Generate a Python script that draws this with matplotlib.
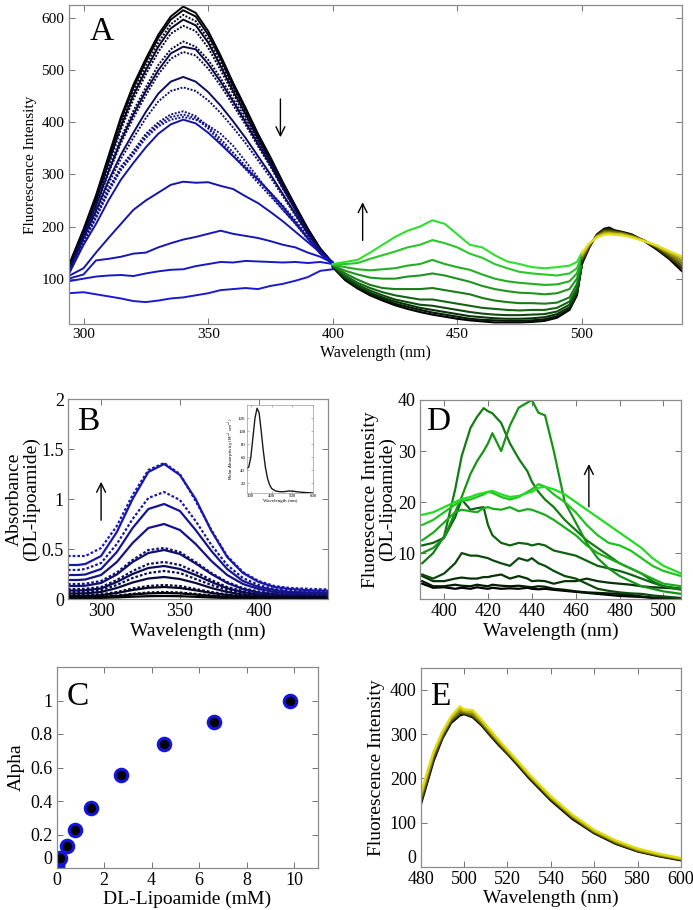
import matplotlib
matplotlib.use("Agg")
import matplotlib.pyplot as plt
import numpy as np
from matplotlib.colors import to_rgb

plt.rcParams['font.family'] = ['Liberation Serif', 'DejaVu Serif']
plt.rcParams['mathtext.fontset'] = 'stix'

# ---------------- Panel A data ----------------
a_wl_uv = [294, 300, 305, 310, 315, 320, 325, 330, 335, 340, 345, 350, 355, 360, 365, 370, 375, 380, 385, 390, 395, 400]
a_uv = [
    [125, 195, 260, 335, 410, 472, 522, 568, 603, 622, 610, 575, 528, 476, 428, 378, 333, 285, 240, 196, 158, 130],
    [122, 192, 256, 330, 405, 466, 516, 562, 597, 615, 603, 568, 522, 470, 424, 375, 330, 283, 238, 195, 157, 130],
    [120, 190, 253, 326, 398, 458, 508, 553, 588, 606, 594, 560, 515, 465, 420, 372, 328, 281, 237, 194, 156, 129],
    [118, 188, 250, 322, 392, 452, 500, 545, 580, 597, 586, 553, 508, 460, 416, 369, 326, 280, 236, 193, 156, 129],
    [116, 186, 247, 318, 386, 444, 492, 535, 570, 585, 575, 543, 500, 455, 411, 365, 323, 278, 235, 192, 155, 129],
    [115, 185, 243, 310, 370, 422, 467, 510, 540, 555, 545, 520, 485, 445, 405, 362, 320, 276, 233, 190, 155, 129],
    [114, 183, 240, 305, 365, 415, 460, 500, 532, 545, 540, 512, 478, 440, 400, 358, 318, 274, 232, 190, 155, 129],
    [113, 182, 238, 302, 360, 408, 452, 492, 522, 535, 528, 503, 470, 433, 395, 354, 315, 272, 231, 189, 154, 129],
    [112, 178, 230, 288, 338, 380, 420, 455, 478, 487, 478, 458, 432, 402, 370, 335, 300, 262, 224, 186, 152, 128],
    [111, 176, 226, 282, 330, 370, 408, 440, 460, 467, 460, 442, 418, 390, 360, 327, 294, 258, 221, 185, 152, 128],
    [110, 172, 220, 272, 315, 345, 378, 400, 415, 421, 412, 392, 368, 342, 316, 290, 265, 240, 212, 180, 150, 128],
    [110, 171, 218, 270, 312, 342, 374, 396, 410, 415, 408, 388, 362, 336, 310, 284, 258, 232, 206, 177, 149, 128],
    [109, 170, 216, 266, 308, 338, 370, 392, 405, 410, 405, 394, 378, 355, 325, 294, 262, 232, 205, 176, 148, 128],
    [108, 165, 205, 250, 290, 322, 352, 378, 396, 405, 398, 380, 358, 335, 312, 290, 265, 238, 208, 178, 148, 128],
    [105, 120, 150, 178, 205, 232, 250, 265, 280, 286, 284, 285, 278, 272, 258, 245, 228, 210, 190, 170, 150, 132],
    [100, 108, 135, 138, 142, 148, 150, 160, 168, 175, 180, 186, 192, 186, 182, 178, 172, 165, 160, 150, 142, 130],
    [95, 100, 104, 106, 107, 105, 110, 114, 117, 118, 124, 128, 132, 131, 134, 133, 132, 131, 132, 130, 132, 128],
    [72, 74, 70, 66, 62, 57, 55, 58, 62, 64, 68, 72, 78, 80, 82, 80, 86, 90, 96, 103, 115, 118],
]
a_uv_dotted = [False, False, True, False, True, True, False, True, False, True, True, True, True, False, False, False, False, False]

a_wl_vis = [400, 405, 410, 415, 420, 425, 430, 435, 440, 445, 450, 455, 460, 465, 470, 475, 480, 485, 490, 495, 498, 500]
a_vis = [
    [122, 97, 81, 68, 58, 49, 42, 36, 31, 27, 23, 20, 18, 16, 16, 16, 17, 19, 25, 40, 68, 128],
    [123, 99, 83, 70, 61, 52, 46, 40, 35, 31, 27, 23, 21, 20, 19, 19, 20, 22, 28, 42, 70, 128],
    [124, 101, 85, 73, 64, 56, 50, 44, 40, 36, 32, 28, 26, 24, 23, 23, 24, 26, 32, 45, 72, 128],
    [124, 103, 88, 77, 68, 60, 55, 50, 48, 44, 40, 36, 33, 31, 30, 30, 31, 32, 37, 50, 76, 128],
    [125, 106, 92, 82, 74, 68, 64, 60, 60, 56, 52, 48, 44, 42, 40, 39, 40, 40, 44, 56, 82, 128],
    [125, 110, 98, 88, 82, 80, 80, 80, 82, 78, 74, 70, 63, 58, 55, 53, 53, 52, 54, 64, 90, 130],
    [126, 115, 108, 102, 100, 100, 104, 106, 110, 106, 100, 94, 86, 80, 76, 73, 72, 70, 72, 80, 100, 135],
    [127, 122, 118, 116, 118, 120, 125, 128, 136, 128, 122, 117, 108, 100, 95, 92, 90, 88, 89, 95, 110, 140],
    [128, 128, 130, 138, 145, 152, 160, 165, 174, 168, 160, 148, 140, 128, 120, 113, 110, 108, 106, 110, 120, 145],
    [128, 132, 136, 150, 165, 180, 192, 200, 212, 205, 185, 165, 160, 145, 133, 128, 122, 120, 122, 125, 132, 150],
]

a_wl_yel = [500, 503, 506, 509, 511, 513, 516, 520, 525, 530, 535, 540]
a_yel = [
    [128, 160, 185, 196, 198, 193, 190, 185, 172, 156, 138, 115],
    [132, 162, 184, 194, 195, 192, 189, 184, 173, 158, 140, 120],
    [136, 163, 183, 192, 192, 190, 188, 183, 173, 160, 143, 125],
    [140, 165, 182, 190, 190, 189, 187, 182, 173, 161, 146, 130],
    [143, 166, 181, 188, 188, 187, 186, 181, 173, 162, 149, 135],
    [146, 167, 180, 186, 187, 186, 185, 180, 172, 163, 151, 140],
    [150, 168, 179, 184, 185, 184, 183, 179, 172, 164, 153, 143],
]

# ---------------- Panel B data ----------------
b_wl = [279, 285, 290, 300, 310, 320, 330, 340, 350, 360, 370, 380, 390, 400, 410, 420, 435, 455]
b_abs = [
    [.43, .43, .43, .51, .73, 1.04, 1.29, 1.36, 1.25, .98, .69, .43, .27, .18, .13, .11, .10, .09],
    [.34, .34, .35, .43, .67, 1.00, 1.27, 1.35, 1.24, 1.00, .68, .42, .26, .17, .12, .10, .085, .08],
    [.29, .29, .30, .36, .55, .80, 1.01, 1.07, .99, .78, .54, .34, .21, .14, .10, .085, .075, .07],
    [.24, .24, .245, .30, .47, .71, .90, .95, .88, .69, .48, .30, .18, .12, .09, .07, .065, .06],
    [.19, .19, .195, .24, .37, .56, .71, .75, .69, .55, .38, .24, .15, .10, .07, .06, .055, .05],
    [.15, .15, .153, .18, .265, .39, .49, .51, .47, .37, .26, .17, .11, .075, .055, .045, .042, .04],
    [.13, .13, .133, .16, .245, .37, .46, .49, .45, .355, .25, .16, .10, .065, .05, .04, .037, .035],
    [.10, .10, .103, .12, .19, .28, .35, .37, .34, .27, .19, .12, .08, .05, .04, .033, .031, .03],
    [.085, .085, .088, .105, .17, .25, .31, .33, .30, .24, .17, .107, .07, .045, .034, .028, .026, .025],
    [.07, .07, .072, .088, .14, .21, .26, .28, .26, .20, .14, .09, .058, .037, .028, .023, .021, .02],
    [.055, .055, .057, .07, .11, .165, .205, .22, .20, .16, .11, .07, .045, .03, .022, .018, .016, .015],
    [.04, .04, .041, .048, .07, .105, .13, .14, .13, .10, .07, .045, .03, .019, .014, .011, .01, .01],
    [.03, .03, .031, .038, .06, .09, .112, .12, .11, .087, .06, .04, .026, .017, .013, .011, .01, .01],
    [.02, .02, .02, .024, .035, .052, .065, .07, .065, .051, .036, .023, .015, .01, .007, .006, .005, .005],
    [.015, .015, .015, .02, .03, .045, .056, .06, .056, .044, .031, .02, .013, .009, .007, .005, .005, .005],
    [.01, .01, .01, .011, .016, .023, .028, .03, .028, .022, .015, .009, .005, .003, .002, .001, 0, 0],
]
b_dotted = [True, False, True, False, False, True, False, True, False, True, False, True, False, True, False, False]

inset_wl = [280, 290, 300, 310, 320, 330, 340, 350, 360, 370, 380, 390, 400, 420, 440, 460, 480, 500, 520, 550, 600]
inset_eps = [42, 45, 60, 90, 120, 135, 128, 100, 70, 45, 28, 18, 12, 8, 7, 7, 8, 8, 7, 6, 5]

# ---------------- Panel C data ----------------
c_conc = [0.0, 0.03, 0.06, 0.14, 0.42, 0.79, 1.46, 2.7, 4.52, 6.63, 9.83]
c_alpha = [0.0, 0.01, 0.04, 0.06, 0.134, 0.224, 0.358, 0.554, 0.74, 0.874, 1.0]

# ---------------- Panel D data ----------------
d_wl = [390, 395, 400, 405, 408, 412, 415, 418, 420, 422, 426, 430, 434, 438, 440, 443, 446, 450, 455, 460, 465, 470, 475, 480, 485, 490, 495, 500, 508]
d_fl = [
    [4.0, 3.2, 3.3, 3.0, 3.2, 3.0, 3.3, 3.1, 3.0, 3.2, 3.0, 3.1, 3.0, 3.2, 3.0, 2.9, 3.0, 2.8, 2.6, 2.4, 2.2, 2.0, 1.8, 1.6, 1.5, 1.4, 1.2, 1.0, 0.9],
    [4.5, 3.5, 3.5, 3.8, 3.6, 3.5, 3.8, 3.6, 3.5, 3.8, 3.6, 3.5, 3.6, 3.4, 3.3, 3.5, 3.4, 3.0, 2.8, 2.5, 2.3, 2.2, 2.1, 2.0, 1.8, 1.5, 1.3, 1.2, 1.0],
    [5.5, 4.5, 4.5, 5.0, 5.2, 5.0, 5.0, 5.3, 5.3, 5.5, 5.8, 5.0, 5.5, 5.0, 4.5, 4.6, 4.5, 4.0, 4.5, 4.5, 5.0, 4.5, 4.2, 4.0, 3.8, 3.5, 3.3, 3.2, 3.0],
    [5.8, 5.0, 6.0, 8.0, 10.0, 9.5, 9.5, 9.2, 9.0, 8.6, 8.0, 7.5, 9.0, 8.5, 9.0, 8.0, 7.5, 6.5, 5.5, 5.0, 4.0, 3.0, 2.6, 2.3, 2.1, 2.0, 1.7, 1.5, 1.2],
    [11.5, 12.0, 13.0, 17.0, 20.5, 18.5, 18.8, 19.0, 15.5, 13.5, 12.0, 11.5, 12.0, 11.8, 11.5, 11.8, 11.5, 10.5, 10.0, 9.5, 8.5, 7.5, 7.0, 6.5, 5.8, 5.0, 4.2, 3.5, 3.0],
    [8.0, 10.0, 13.3, 22.4, 29.0, 34.5, 36.7, 38.4, 37.8, 37.4, 35.5, 31.5, 28.5, 26.0, 24.0, 22.0, 20.5, 19.0, 16.5, 14.5, 12.5, 11.0, 9.5, 8.0, 7.0, 6.0, 4.5, 3.5, 2.8],
    [10.0, 11.0, 13.0, 18.0, 21.0, 25.5, 28.0, 30.0, 31.5, 33.5, 30.0, 35.0, 38.5, 39.5, 40.0, 37.5, 37.0, 30.0, 20.0, 16.0, 12.0, 9.0, 7.0, 5.5, 4.5, 3.5, 3.0, 2.5, 2.0],
    [12.5, 14.0, 16.0, 18.0, 18.5, 18.2, 18.0, 18.8, 19.0, 18.7, 18.5, 19.0, 18.2, 18.6, 18.5, 18.0, 17.5, 16.5, 15.0, 13.5, 11.5, 10.0, 9.0, 8.0, 7.0, 6.0, 5.0, 4.0, 3.5],
    [15.5, 16.5, 18.0, 19.5, 20.2, 20.5, 21.0, 21.5, 22.0, 21.8, 21.0, 20.5, 21.0, 22.0, 22.5, 23.5, 23.0, 21.5, 20.0, 18.0, 15.5, 13.5, 12.0, 11.5, 10.5, 9.0, 7.5, 6.5, 5.5],
    [17.5, 18.0, 19.0, 20.0, 20.6, 21.0, 21.5, 21.8, 22.0, 22.2, 21.5, 21.0, 21.2, 21.8, 22.0, 22.8, 23.0, 22.5, 21.5, 20.0, 18.5, 17.0, 15.5, 14.0, 12.5, 11.0, 9.0, 7.5, 6.0],
]

# ---------------- Panel E data ----------------
e_wl = [480, 483, 486, 490, 494, 498, 500, 504, 508, 512, 516, 520, 525, 530, 540, 550, 560, 570, 580, 590, 600]
e_fl = [
    [140, 190, 240, 290, 325, 342, 345, 338, 320, 297, 275, 255, 228, 200, 150, 108, 76, 52, 35, 24, 15],
    [145, 195, 245, 293, 328, 345, 346, 340, 322, 299, 277, 256, 230, 202, 152, 110, 77, 53, 36, 25, 16],
    [150, 200, 250, 296, 330, 348, 348, 342, 324, 301, 279, 258, 232, 204, 154, 112, 79, 55, 37, 26, 17],
    [155, 205, 255, 300, 334, 352, 350, 345, 327, 304, 282, 261, 234, 206, 156, 114, 80, 56, 38, 27, 18],
    [160, 210, 258, 303, 337, 358, 352, 350, 330, 307, 284, 263, 236, 208, 158, 116, 82, 58, 40, 28, 19],
    [165, 215, 262, 306, 340, 363, 356, 354, 333, 310, 287, 265, 238, 210, 160, 118, 84, 60, 42, 30, 20],
]


def blend(c1, c2, t):
    a = np.array(to_rgb(c1)); b = np.array(to_rgb(c2))
    return tuple(a + (b - a) * t)


def style(ax, fs):
    ax.tick_params(direction='in', top=True, right=True, length=4, width=0.7,
                   color='0.45', labelsize=fs, pad=3)
    for s in ax.spines.values():
        s.set_color('0.55')
        s.set_linewidth(0.9)


W, H = 693, 910
fig = plt.figure(figsize=(W / 100, H / 100), dpi=100)


def box(l, t, r, b):
    return [l / W, 1 - b / H, (r - l) / W, (b - t) / H]


# ---------- A ----------
axA = fig.add_axes(box(68.6, 5, 681.6, 324))
n = len(a_uv)
for i, (y, dot) in enumerate(zip(a_uv, a_uv_dotted)):
    c = blend('#000000', '#1a1ad0', i / (n - 1))
    axA.plot(a_wl_uv, y, color=c, lw=1.4, ls=(0, (1, 0.8)) if dot else '-')
n = len(a_vis)
for i, y in enumerate(a_vis):
    c = blend('#000000', '#2ee02e', i / (n - 1))
    axA.plot(a_wl_vis, y, color=c, lw=1.5)
n = len(a_yel)
for i, y in enumerate(a_yel):
    c = blend('#000000', '#e6e01a', i / (n - 1))
    axA.plot(a_wl_yel, y, color=c, lw=1.5)
axA.set_xlim(294, 540)
axA.set_ylim(13, 625)
axA.set_xticks([300, 350, 400, 450, 500])
axA.set_yticks([100, 200, 300, 400, 500, 600])
style(axA, 11)
axA.set_xlabel('Wavelength (nm)', fontsize=11.5, labelpad=3)
axA.set_ylabel('Fluorescence Intensity', fontsize=11, labelpad=3)
axA.text(0.035, 0.965, 'A', transform=axA.transAxes, fontsize=24, ha='left', va='top')
axA.annotate('', xy=(379, 366), xytext=(379, 450),
             arrowprops=dict(arrowstyle='->', lw=1, color='k', mutation_scale=16))
axA.annotate('', xy=(412, 252), xytext=(412, 168),
             arrowprops=dict(arrowstyle='->', lw=1, color='k', mutation_scale=16))

# ---------- B ----------
axB = fig.add_axes(box(68, 399, 328, 599))
n = len(b_abs)
for i, (y, dot) in enumerate(zip(b_abs, b_dotted)):
    t = 1 - i / (n - 1)
    c = blend('#000000', '#1a1ab8', t)
    axB.plot(b_wl, y, color=c, lw=1.6, ls=(0, (1.2, 0.9)) if dot else '-')
axB.set_xlim(279, 444)
axB.set_ylim(0, 2)
axB.set_xticks([300, 350, 400])
axB.set_yticks([0, 0.5, 1, 1.5, 2])
axB.set_yticklabels(['0', '0.5', '1', '1.5', '2'])
style(axB, 13)
axB.set_xlabel('Wavelength (nm)', fontsize=14, labelpad=2)
axB.set_ylabel('Absorbance\n(DL-lipoamide)', fontsize=14, labelpad=1, linespacing=1.0)
axB.text(0.033, 0.965, 'B', transform=axB.transAxes, fontsize=24, ha='left', va='top')
axB.annotate('', xy=(300, 1.2), xytext=(300, 0.76),
             arrowprops=dict(arrowstyle='->', lw=1, color='k', mutation_scale=16))

axI = fig.add_axes(box(246.7, 405, 313, 493))
axI.plot(inset_wl, inset_eps, color='0.1', lw=1.0)
axI.set_xlim(280, 600)
axI.set_ylim(5, 140)
axI.set_xticks([300, 400, 500, 600])
axI.set_yticks([20, 40, 60, 80, 100, 120])
axI.tick_params(direction='in', top=True, right=True, length=1.5, width=0.4,
                color='0.5', labelsize=3.5, pad=1)
for s in axI.spines.values():
    s.set_color('0.6'); s.set_linewidth(0.5)
axI.set_xlabel('Wavelength (nm)', fontsize=3.5, labelpad=0.5)
axI.set_ylabel('Molar Absorptivity (M$^{-1}$ cm$^{-1}$)', fontsize=3, labelpad=0.5,
               family='DejaVu Sans')

# ---------- D ----------
axD = fig.add_axes(box(420, 400, 681, 599))
n = len(d_fl)
for i, y in enumerate(d_fl):
    c = blend('#000000', '#22dd22', i / (n - 1))
    axD.plot(d_wl, y, color=c, lw=1.6)
axD.set_xlim(389, 508)
axD.set_ylim(1, 40)
axD.set_xticks([400, 420, 440, 460, 480, 500])
axD.set_yticks([10, 20, 30, 40])
style(axD, 13)
axD.set_xlabel('Wavelength (nm)', fontsize=14, labelpad=2)
axD.set_ylabel('Fluorescence Intensity\n(DL-lipoamide)', fontsize=14, labelpad=1, linespacing=1.0)
axD.text(0.023, 0.965, 'D', transform=axD.transAxes, fontsize=24, ha='left', va='top')
axD.annotate('', xy=(466, 28), xytext=(466, 18.5),
             arrowprops=dict(arrowstyle='->', lw=1, color='k', mutation_scale=16))

# ---------- C ----------
axC = fig.add_axes(box(56.7, 667, 317.7, 868))
axC.plot(c_conc, c_alpha, 'o', ms=9, mfc='black', mec='#1515e0', mew=2.2, ls='none')
axC.set_xlim(0, 11)
axC.set_ylim(0, 1.2)
axC.set_xticks([0, 2, 4, 6, 8, 10])
axC.set_yticks([0, 0.2, 0.4, 0.6, 0.8, 1])
axC.set_yticklabels(['0', '0.2', '0.4', '0.6', '0.8', '1'])
style(axC, 13)
axC.set_xlabel('DL-Lipoamide (mM)', fontsize=14, labelpad=1)
axC.set_ylabel('Alpha', fontsize=14, labelpad=4)
axC.text(0.038, 0.927, 'C', transform=axC.transAxes, fontsize=24, ha='left', va='top')
axC.get_yticklabels()[0].set_va('bottom')

# ---------- E ----------
axE = fig.add_axes(box(420.7, 667.7, 681, 867))
n = len(e_fl)
for i, y in enumerate(e_fl):
    c = blend('#000000', '#e0dc10', i / (n - 1))
    axE.plot(e_wl, y, color=c, lw=1.6)
axE.set_xlim(480, 600)
axE.set_ylim(0, 450)
axE.set_xticks([480, 500, 520, 540, 560, 580, 600])
axE.set_yticks([0, 100, 200, 300, 400])
style(axE, 13)
axE.set_xlabel('Wavelength (nm)', fontsize=14, labelpad=1)
axE.set_ylabel('Fluorescence Intensity', fontsize=14, labelpad=3)
axE.text(0.036, 0.93, 'E', transform=axE.transAxes, fontsize=24, ha='left', va='top')
axE.get_yticklabels()[0].set_va('bottom')

fig.savefig('out.png', dpi=100)
